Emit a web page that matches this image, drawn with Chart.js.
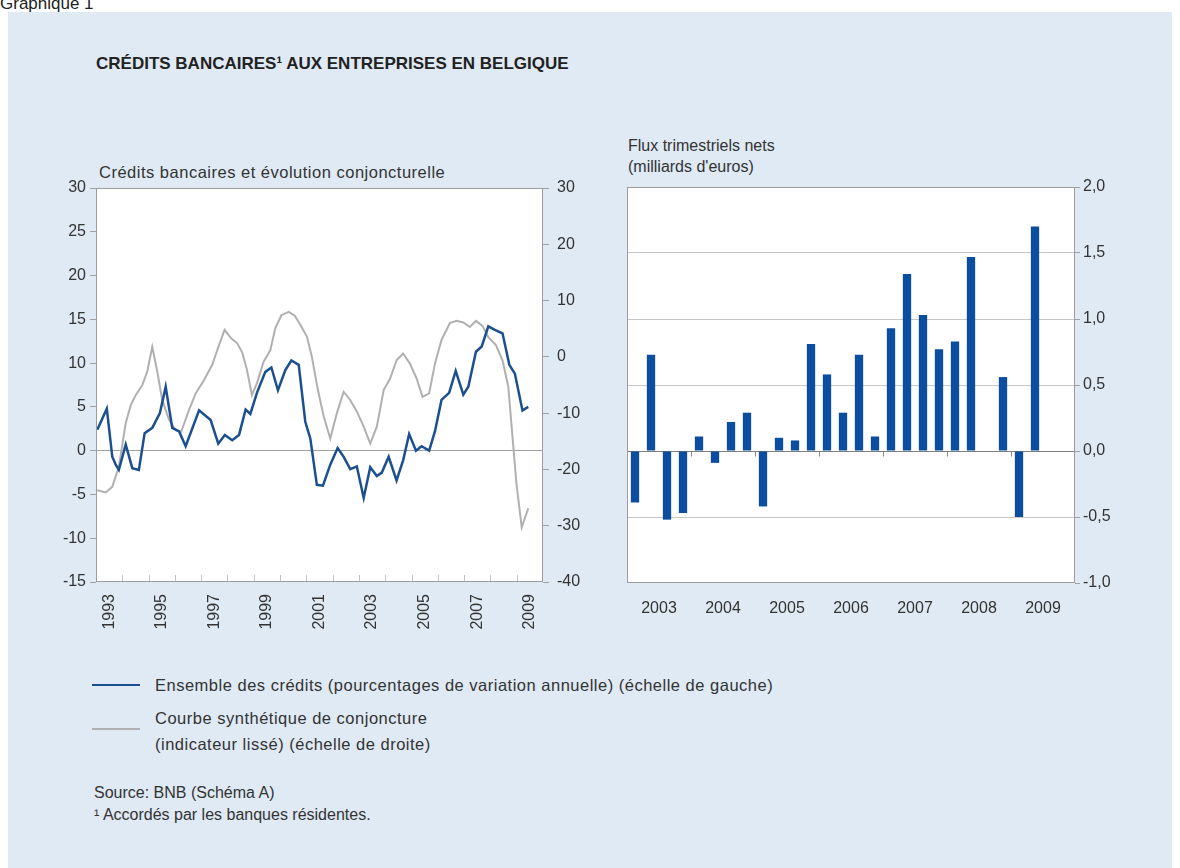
<!DOCTYPE html>
<html>
<head>
<meta charset="utf-8">
<script src="https://cdn.jsdelivr.net/npm/chart.js@4"></script>
<style>
  body { margin: 0; width: 1180px; height: 868px; background: #fff; position: relative; overflow: hidden;
         font-family: "Liberation Sans", Arial, sans-serif; color: #333; }
  .abs { position: absolute; white-space: nowrap; }
  #panel { left: 8px; top: 12px; width: 1164px; height: 856px; background: #dfeaf4; }
  .txt { font-size: 16px; line-height: 18px; }
  .wide { font-size: 16.5px; letter-spacing: 0.5px; }
  .leg { position: absolute; height: 0; border-top: 2px solid; }
</style>
</head>
<body>
<div class="abs" style="left:0; top:-6px; font-size:17px; color:#222;">Graphique 1</div>
<div id="panel" class="abs"></div>
<div class="abs" style="left:96px; top:54px; font-size:17px; font-weight:bold; color:#222;">CRÉDITS BANCAIRES¹ AUX ENTREPRISES EN BELGIQUE</div>
<div class="abs txt wide" style="left:99px; top:163px;">Crédits bancaires et évolution conjoncturelle</div>
<div class="abs txt" style="left:628px; top:137px;">Flux trimestriels nets</div>
<div class="abs txt" style="left:628px; top:158px;">(milliards d'euros)</div>

<canvas id="left" class="abs" width="570" height="500" style="left:30px; top:140px;"></canvas>
<canvas id="right" class="abs" width="580" height="500" style="left:580px; top:140px;"></canvas>

<div class="leg" style="left:92px; top:684px; width:48px; border-color:#1b4f8f;"></div>
<div class="abs txt wide" style="left:155px; top:676px;">Ensemble des crédits (pourcentages de variation annuelle) (échelle de gauche)</div>
<div class="leg" style="left:92px; top:728px; width:48px; border-color:#b0b0b0;"></div>
<div class="abs txt wide" style="left:155px; top:709px;">Courbe synthétique de conjoncture</div>
<div class="abs txt wide" style="left:155px; top:735px;">(indicateur lissé) (échelle de droite)</div>
<div class="abs txt" style="left:94px; top:784px;">Source: BNB (Schéma A)</div>
<div class="abs txt" style="left:94px; top:806px;">¹ Accordés par les banques résidentes.</div>

<script>
// Ensemble des crédits, % de variation annuelle (échelle de gauche)
const creditYears = [1993.05, 1993.41, 1993.62, 1993.75, 1993.87, 1994.13, 1994.38, 1994.63, 1994.85,
  1995.14, 1995.43, 1995.65, 1995.9, 1996.16, 1996.41, 1996.92, 1997.36, 1997.65, 1997.9, 1998.18,
  1998.44, 1998.69, 1998.87, 1999.12, 1999.44, 1999.67, 1999.92, 2000.2, 2000.43, 2000.71, 2000.96,
  2001.15, 2001.4, 2001.63, 2001.91, 2002.19, 2002.42, 2002.67, 2002.92, 2003.18, 2003.43, 2003.68,
  2003.87, 2004.13, 2004.43, 2004.68, 2004.91, 2005.17, 2005.38, 2005.67, 2005.89, 2006.14, 2006.43,
  2006.68, 2006.97, 2007.16, 2007.45, 2007.67, 2007.92, 2008.17, 2008.46, 2008.72, 2008.93, 2009.22, 2009.44];
const creditGrowth = [2.4, 4.8, -0.7, -1.6, -2.2, 0.7, -2.0, -2.2, 2.0,
  2.6, 4.3, 7.3, 2.6, 2.2, 0.5, 4.6, 3.5, 0.8, 1.8, 1.2,
  1.8, 4.7, 4.2, 6.6, 9.0, 9.5, 6.9, 9.2, 10.3, 9.8, 3.3,
  1.4, -3.9, -4.0, -1.6, 0.3, -0.7, -2.1, -1.8, -5.4, -1.9, -2.9,
  -2.5, -0.7, -3.4, -1.1, 1.9, 0.0, 0.5, 0.0, 2.2, 5.8, 6.6,
  9.1, 6.4, 7.3, 11.3, 11.9, 14.2, 13.8, 13.4, 9.8, 8.8, 4.6, 5.0];

// Courbe synthétique de conjoncture, indicateur lissé (échelle de droite)
const cycleYears = [1993.05, 1993.37, 1993.62, 1993.87, 1994.13, 1994.32, 1994.51, 1994.76, 1994.95,
  1995.14, 1995.33, 1995.52, 1995.78, 1996.03, 1996.24, 1996.54, 1996.79, 1997.11, 1997.42, 1997.68,
  1997.89, 1998.14, 1998.37, 1998.56, 1998.74, 1998.93, 1999.12, 1999.37, 1999.63, 1999.82, 2000.05,
  2000.33, 2000.56, 2000.77, 2001.02, 2001.21, 2001.44, 2001.66, 2001.91, 2002.16, 2002.42, 2002.67,
  2002.92, 2003.18, 2003.43, 2003.68, 2003.94, 2004.19, 2004.43, 2004.68, 2004.94, 2005.19, 2005.42,
  2005.67, 2005.89, 2006.14, 2006.46, 2006.71, 2006.97, 2007.22, 2007.45, 2007.70, 2007.92, 2008.21,
  2008.46, 2008.68, 2008.84, 2008.99, 2009.19, 2009.44];
const cycleIndicator = [-23.7, -24.1, -23.1, -19.5, -11.8, -8.6, -6.8, -5.0, -2.6,
  1.8, -2.6, -7.7, -11.2, -13.0, -13.3, -9.4, -6.5, -4.1, -1.4, 2.1,
  4.8, 3.3, 2.4, 0.8, -2.3, -6.8, -4.7, -0.9, 1.2, 5.1, 7.4,
  8.0, 7.3, 5.7, 3.6, 0.0, -5.9, -10.6, -14.5, -10.0, -6.2, -7.7,
  -9.7, -12.4, -15.4, -12.4, -5.9, -3.8, -0.6, 0.6, -1.2, -3.8, -7.1,
  -6.5, -1.2, 3.0, 6.0, 6.4, 6.1, 5.3, 6.4, 5.5, 3.5, 2.1,
  -0.6, -5.3, -14.2, -22.5, -30.3, -26.9];

const yearLabels = [1993, 1995, 1997, 1999, 2001, 2003, 2005, 2007, 2009];
const leftTicks = [30, 25, 20, 15, 10, 5, 0, -5, -10, -15];
const rightTicks = [30, 20, 10, 0, -10, -20, -30, -40];

// Flux trimestriels nets (milliards d'euros)
const quarters = ['2003 T1', '2003 T2', '2003 T3', '2003 T4', '2004 T1', '2004 T2', '2004 T3', '2004 T4',
  '2005 T1', '2005 T2', '2005 T3', '2005 T4', '2006 T1', '2006 T2', '2006 T3', '2006 T4',
  '2007 T1', '2007 T2', '2007 T3', '2007 T4', '2008 T1', '2008 T2', '2008 T3', '2008 T4',
  '2009 T1', '2009 T2', '2009 T3', '2009 T4'];
const netFlows = [-0.39, 0.73, -0.52, -0.47, 0.11, -0.09, 0.22, 0.29,
  -0.42, 0.10, 0.08, 0.81, 0.58, 0.29, 0.73, 0.11,
  0.93, 1.34, 1.03, 0.77, 0.83, 1.47, null, 0.56,
  -0.50, 1.70, null, null];
const flowTicks = [2.0, 1.5, 1.0, 0.5, 0.0, -0.5, -1.0];

Chart.defaults.font.family = '"Liberation Sans", Arial, sans-serif';
Chart.defaults.font.size = 16;
Chart.defaults.color = '#333';

const frame = {
  id: 'frame',
  beforeDraw(chart) {
    const a = chart.chartArea, c = chart.ctx;
    c.save();
    c.fillStyle = '#fff';
    c.fillRect(a.left, a.top, a.right - a.left, a.bottom - a.top);
    c.restore();
  },
  afterDraw(chart) {
    const a = chart.chartArea, c = chart.ctx;
    c.save();
    c.strokeStyle = '#9c9c9c';
    c.lineWidth = 1;
    c.strokeRect(Math.round(a.left) + 0.5, Math.round(a.top) + 0.5,
      Math.round(a.right - a.left) - 1, Math.round(a.bottom - a.top) - 1);
    // petits repères annuels
    c.strokeStyle = chart.canvas.id === 'left' ? '#c4c4c4' : '#8a8a8a';
    if (chart.canvas.id === 'left') {
      const x = chart.scales.x;
      for (let y = 1994; y <= 2009; y++) {
        const px = Math.round(x.getPixelForValue(y)) + 0.5;
        c.beginPath(); c.moveTo(px, a.bottom - 1); c.lineTo(px, a.bottom - 7); c.stroke();
      }
    } else {
      const x = chart.scales.x, y0 = Math.round(chart.scales.y.getPixelForValue(0)) + 0.5;
      for (let i = 4; i < quarters.length; i += 4) {
        const px = Math.round((x.getPixelForValue(i - 1) + x.getPixelForValue(i)) / 2) + 0.5;
        c.beginPath(); c.moveTo(px, y0); c.lineTo(px, y0 + 5); c.stroke();
      }
    }
    c.restore();
  }
};

new Chart(document.getElementById('left'), {
  type: 'line',
  data: {
    datasets: [{
      data: creditYears.map((x, i) => ({ x: x, y: creditGrowth[i] })),
      yAxisID: 'yL',
      borderColor: '#1b4f8f',
      borderWidth: 2.5,
      pointRadius: 0
    }, {
      data: cycleYears.map((x, i) => ({ x: x, y: cycleIndicator[i] })),
      yAxisID: 'yR',
      borderColor: '#b0b0b0',
      borderWidth: 2,
      pointRadius: 0
    }]
  },
  options: {
    responsive: false,
    animation: false,
    devicePixelRatio: 1,
    layout: { padding: { top: 48, left: 0, right: 0, bottom: 0 } },
    plugins: { legend: { display: false }, tooltip: { enabled: false } },
    scales: {
      x: {
        type: 'linear', min: 1993, max: 2010,
        grid: { display: false }, border: { display: false },
        afterBuildTicks: s => { s.ticks = yearLabels.map(y => ({ value: y + 0.5 })); },
        afterFit: s => { s.height = 58; },
        ticks: { minRotation: 90, maxRotation: 90, autoSkip: false, padding: 4,
          callback: v => String(Math.floor(v)) }
      },
      yL: {
        position: 'left', min: -15, max: 30,
        afterBuildTicks: s => { s.ticks = leftTicks.map(v => ({ value: v })); },
        afterFit: s => { s.width = 66; },
        border: { display: false },
        grid: { color: c => c.tick && c.tick.value === 0 ? '#a0a0a0' : 'rgba(0,0,0,0)',
          tickColor: '#a0a0a0', tickLength: 6 },
        ticks: { padding: 4 }
      },
      yR: {
        position: 'right', min: -40, max: 30,
        afterBuildTicks: s => { s.ticks = rightTicks.map(v => ({ value: v })); },
        afterFit: s => { s.width = 57; },
        border: { display: false },
        grid: { drawOnChartArea: false, tickColor: '#a0a0a0', tickLength: 6 },
        ticks: { padding: 8 }
      }
    }
  },
  plugins: [frame]
});

new Chart(document.getElementById('right'), {
  type: 'bar',
  data: {
    labels: quarters,
    datasets: [{
      data: netFlows,
      backgroundColor: '#0b4d9e',
      barPercentage: 0.52,
      categoryPercentage: 1
    }]
  },
  options: {
    responsive: false,
    animation: false,
    devicePixelRatio: 1,
    layout: { padding: { top: 47, left: 47, right: 0, bottom: 0 } },
    plugins: { legend: { display: false }, tooltip: { enabled: false } },
    scales: {
      x: {
        offset: true,
        grid: { display: false }, border: { display: false },
        afterFit: s => { s.height = 57; },
        ticks: { autoSkip: false, maxRotation: 0, minRotation: 0, labelOffset: 8, padding: 8,
          callback: (v, i) => i % 4 === 1 ? quarters[i].slice(0, 4) : '' }
      },
      y: {
        position: 'right', min: -1, max: 2,
        afterBuildTicks: s => { s.ticks = flowTicks.map(v => ({ value: v })); },
        afterFit: s => { s.width = 85; },
        border: { display: false },
        grid: {
          color: c => !c.tick ? 'rgba(0,0,0,0)' : c.tick.value === 0 ? '#808080'
            : (c.tick.value === 2 || c.tick.value === -1) ? 'rgba(0,0,0,0)' : '#c6c6c6',
          tickColor: '#a0a0a0', tickLength: 5
        },
        ticks: { padding: 3, callback: v => v.toFixed(1).replace('.', ',') }
      }
    }
  },
  plugins: [frame]
});
</script>
</body>
</html>
